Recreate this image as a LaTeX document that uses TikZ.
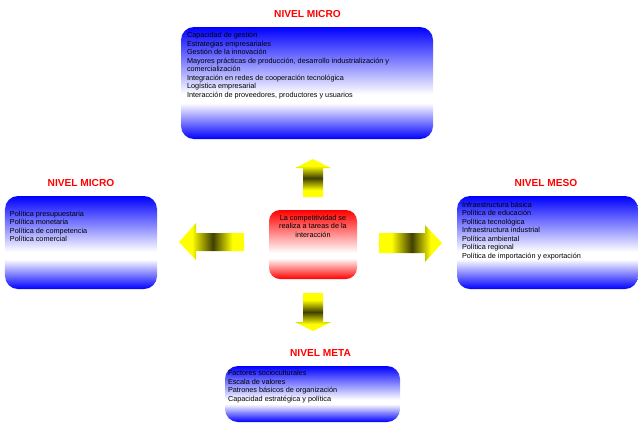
\documentclass[tikz,border=0pt]{standalone}
\usepackage{fontspec}
\setmainfont{Liberation Sans}
\usepackage{tikz}

\pgfdeclareverticalshading{boxblue}{100bp}{color(0bp)=(blue); color(25bp)=(blue); color(41bp)=(white); color(45bp)=(white); color(75bp)=(blue); color(100bp)=(blue)}
\pgfdeclareverticalshading{boxred}{100bp}{color(0bp)=(red); color(25bp)=(red); color(40bp)=(white); color(44bp)=(white); color(75bp)=(red); color(100bp)=(red)}
\pgfdeclarehorizontalshading{arrowh}{100bp}{color(0bp)=(yellow); color(35bp)=(yellow); color(51bp)=(yellow!25!black); color(66bp)=(yellow); color(100bp)=(yellow)}
\pgfdeclareverticalshading{arrowv}{100bp}{color(0bp)=(yellow); color(34bp)=(yellow); color(50bp)=(yellow!25!black); color(66bp)=(yellow); color(100bp)=(yellow)}

\begin{document}
\begin{tikzpicture}[x=1bp,y=-1bp]
\tikzset{levelbox/.style={rounded corners=13bp, shade, shading=boxblue, inner sep=0pt},
        corebox/.style={rounded corners=11bp, shade, shading=boxred, inner sep=0pt},
        leveltitle/.style={text=red, inner sep=0pt, font=\fontsize{10.2}{12}\selectfont\bfseries},
        itemlist/.style={align=left, inner sep=0pt, anchor=north west, font=\fontsize{7.3}{8.5}\selectfont}}

\useasboundingbox (0,0) rectangle (638,422);

% boxes
\node[levelbox, minimum width=252bp, minimum height=112bp] (micro) at (307,83) {};
\node[levelbox, minimum width=152bp, minimum height=93bp] (macro) at (81,242.5) {};
\node[levelbox, minimum width=181bp, minimum height=93bp] (meso) at (547.5,242.5) {};
\node[levelbox, minimum width=175bp, minimum height=56bp] (meta) at (312.5,394) {};
\node[corebox, minimum width=88bp, minimum height=69bp] (core) at (313,244.5) {};

% titles
\node[leveltitle] (microtitle) at (307.5,14) {NIVEL MICRO};
\node[leveltitle] (macrotitle) at (81,183) {NIVEL MICRO};
\node[leveltitle] (mesotitle) at (546,183) {NIVEL MESO};
\node[leveltitle] (metatitle) at (320.5,353) {NIVEL META};

% lists
\node[itemlist] (microlist) at ([shift={(6,5.5)}]micro.north west) {Capacidad de gestión\\
  Estrategias empresariales\\
  Gestión de la innovación\\
  Mayores prácticas de producción, desarrollo industrialización y\\
  comercialización\\
  Integración en redes de cooperación tecnológica\\
  Logística empresarial\\
  Interacción de proveedores, productores y usuarios};
\node[itemlist] (macrolist) at ([shift={(5,15)}]macro.north west) {Política presupuestaria\\
  Política monetaria\\
  Política de competencia\\
  Política comercial};
\node[itemlist] (mesolist) at ([shift={(5,6)}]meso.north west) {Infraestructura básica\\
  Política de educación\\
  Política tecnológica\\
  Infraestructura industrial\\
  Política ambiental\\
  Política regional\\
  Política de importación y exportación};
\node[itemlist] (metalist) at ([shift={(3,4.5)}]meta.north west) {Factores socioculturales\\
  Escala de valores\\
  Patrones básicos de organización\\
  Capacidad estratégica y política};
\node[itemlist, align=center, anchor=north] (corelist) at ([shift={(0,5)}]core.north) {La competitividad se\\
  realiza a tareas de la\\
  interacción};

% arrows
\shade[shading=arrowv] (303,197) -- (303,168) -- (295,168) -- (313,159) -- (331,168) -- (323,168) -- (323,197) -- cycle;
\shade[shading=arrowh] (244,233) -- (196,233) -- (196,223) -- (179,242) -- (196,260) -- (196,251) -- (244,251) -- cycle;
\shade[shading=arrowh] (379,233) -- (425,233) -- (425,225) -- (442,243) -- (425,262) -- (425,253) -- (379,253) -- cycle;
\shade[shading=arrowv] (303,293) -- (323,293) -- (323,322) -- (331,322) -- (313,331) -- (295,322) -- (303,322) -- cycle;

\end{tikzpicture}
\end{document}
